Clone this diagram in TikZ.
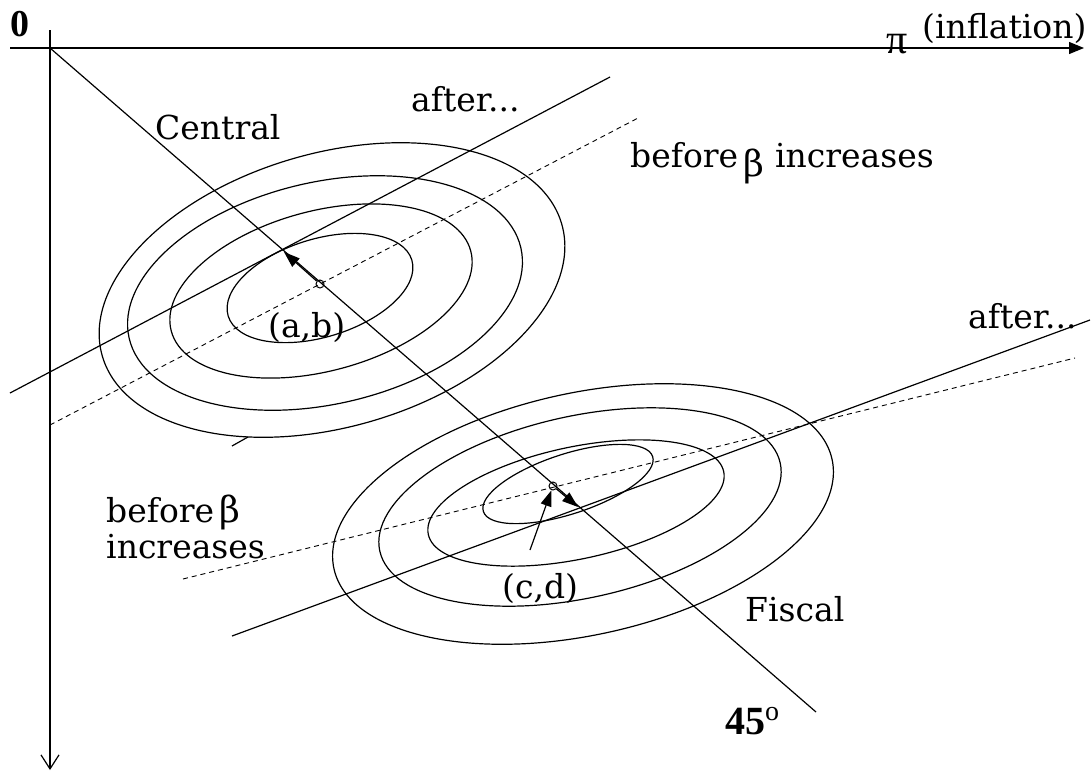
\documentclass[tikz,border=0pt]{standalone}
\usepackage{fontspec}
\setmainfont{DejaVu Serif}
\newfontfamily\digitfont{Liberation Serif}
\usetikzlibrary{arrows.meta}
\newcommand{\lowbeta}[1]{\raisebox{#1}{\fontsize{36}{40}\selectfont β}}
\begin{document}
\begin{tikzpicture}[x=1pt,y=-1pt,
  ln/.style={line width=1.2pt},
  dsh/.style={line width=0.9pt, dash pattern=on 5pt off 4pt},
  lbl/.style={inner sep=0pt, anchor=base west, font=\fontsize{33}{40}\selectfont},
  dot/.style={circle, draw, line width=1pt, inner sep=0pt, minimum size=8pt},
  tip/.style={-{Triangle[length=16pt,width=11pt]}}
]
\useasboundingbox (0,0) rectangle (1091,772);
% axes
\coordinate (O) at (50,48);
\coordinate (xl) at (10,48);
\coordinate (xr) at (1084,48);
\coordinate (yt) at (50,30);
\coordinate (yb) at (50,770);
\draw[ln,-{Triangle[length=15pt,width=12pt]}] (xl) -- (xr);
\draw[ln,-{Straight Barb[length=14pt,width=18pt]}] (yt) -- (yb);
% 45 degree line
\coordinate (E45) at (816,712);
\draw[ln] (O) -- (E45);
% upper ellipses
\begin{scope}[ln]
\draw[rotate around={17:(320,288)}] (320,288) ellipse [x radius=96pt, y radius=49pt];
\draw[rotate around={15:(321,291)}] (321,291) ellipse [x radius=155pt, y radius=80pt];
\draw[rotate around={13:(325,293)}] (325,293) ellipse [x radius=201pt, y radius=111pt];
\draw[rotate around={16:(332,290)}] (332,290) ellipse [x radius=239pt, y radius=137pt];
% lower ellipses
\draw[rotate around={18:(568,484)}] (568,484) ellipse [x radius=89pt, y radius=30pt];
\draw[rotate around={12:(576,503)}] (576,503) ellipse [x radius=151pt, y radius=56pt];
\draw[rotate around={12.4:(580,507)}] (580,507) ellipse [x radius=205pt, y radius=91pt];
\draw[rotate around={12.4:(583,514)}] (583,514) ellipse [x radius=255pt, y radius=121pt];
\end{scope}
% upper lines
\coordinate (ua1) at (10,393);
\coordinate (ua2) at (610,77);
\draw[ln] (ua1) -- (ua2);
\coordinate (ub1) at (50,425);
\coordinate (ub2) at (640,117);
\draw[dsh] (ub1) -- (ub2);
% lower lines
\coordinate (la1) at (232,636);
\coordinate (la2) at (1090,320);
\draw[ln] (la1) -- (la2);
\coordinate (lb1) at (183,579);
\coordinate (lb2) at (1075,358);
\draw[dsh] (lb1) -- (lb2);
% stray tick
\coordinate (s1) at (232,446);
\coordinate (s2) at (248,437);
\draw[ln] (s1) -- (s2);
% points and arrows
\node[dot] (ab) at (320,284) {};
\node[dot] (cd) at (553,486) {};
\coordinate (t1) at (284,252);
\coordinate (t2) at (578,507);
\coordinate (cdtail) at (530,550);
\draw[ln,tip] (ab) -- (t1);
\draw[ln,tip] (cd) -- (t2);
\draw[ln,tip] (cdtail) -- (cd);
% labels
\node[inner sep=0pt, anchor=base west, font=\digitfont\bfseries\fontsize{38}{40}\selectfont] (zero) at (10,36) {0};
\node[inner sep=0pt, anchor=base west, font=\digitfont\fontsize{42}{44}\selectfont] (pi) at (886,53) {π};
\node[lbl] (infl) at (922,38) {(inflation)};
\node[lbl] (central) at (155,139) {Central};
\node[lbl] (after1) at (411,111) {after...};
\node[lbl] (before1) at (630,167) {before\,\lowbeta{-0.3em} increases};
\node[lbl] (ablbl) at (268,337) {(a,b)};
\node[lbl] (after2) at (968,328) {after...};
\node[lbl] (before2) at (106,522) {before\,\lowbeta{0em}};
\node[lbl] (incr2) at (106,558) {increases};
\node[lbl] (cdlbl) at (502,598) {(c,d)};
\node[lbl] (fiscal) at (745,621) {Fiscal};
\node[inner sep=0pt, anchor=base west, font=\digitfont\bfseries\fontsize{40}{44}\selectfont] (deg) at (725,734) {45\raisebox{0.33em}{\fontsize{28}{28}\selectfont\mdseries o}};
\end{tikzpicture}
\end{document}
